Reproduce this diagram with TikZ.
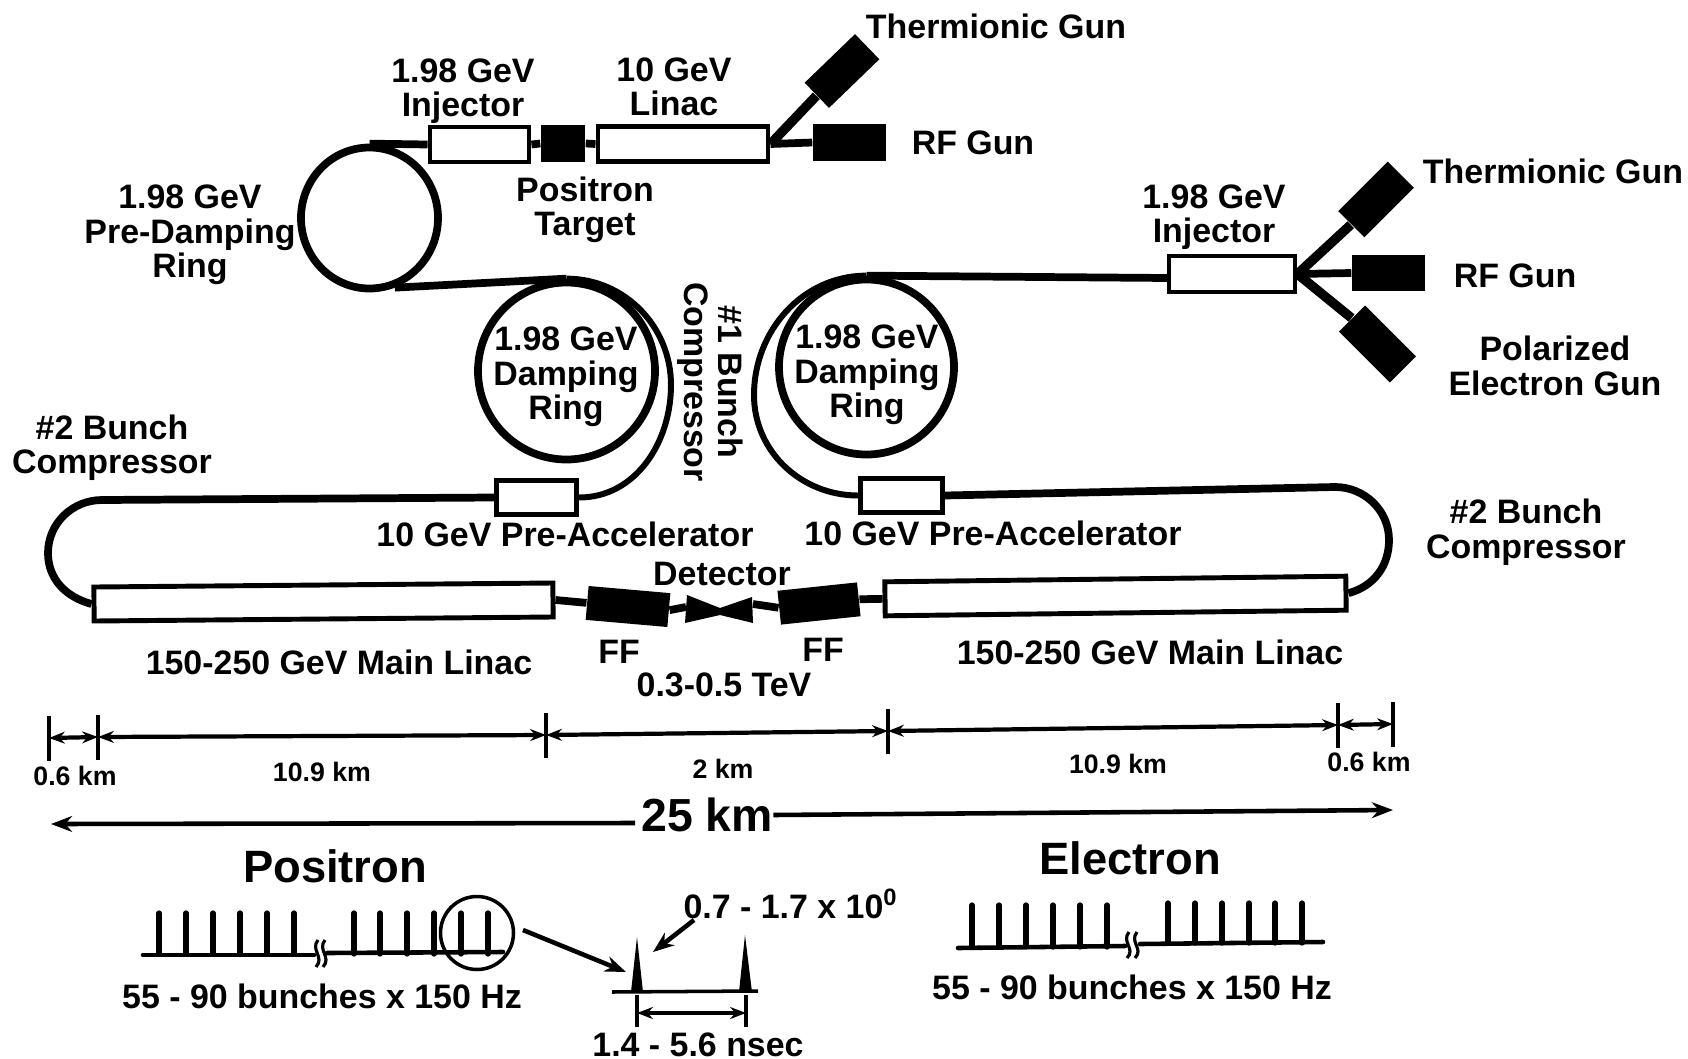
\documentclass[tikz,border=0pt]{standalone}
\usepackage{fontspec}
\setmainfont{Liberation Sans}
\usetikzlibrary{shapes.geometric, arrows.meta}
\newcommand{\basefont}{\fontsize{9.65}{9.8}\selectfont\bfseries}
\newcommand{\smallfont}{\fontsize{7.6}{8}\selectfont\bfseries}
\newcommand{\bigfont}{\fontsize{12.9}{14}\selectfont\bfseries}
\tikzset{
  txt/.style      = {align=center, inner sep=0pt, font=\basefont},
  smalltxt/.style = {align=center, inner sep=0pt, font=\smallfont},
  bigtxt/.style   = {align=center, inner sep=0pt, font=\bigfont},
  box/.style      = {rectangle, draw, fill=white, line width=1.4pt, inner sep=0pt},
  blk/.style      = {rectangle, fill=black, inner sep=0pt},
  ring/.style     = {circle, draw, line width=2.2pt, inner sep=0pt},
  beam/.style     = {line width=2.2pt},
  feed/.style     = {line width=2.7pt},
  comp/.style     = {line width=1.7pt},
  dim/.style      = {{Stealth[length=4.5pt]}-{Stealth[length=4.5pt]}, line width=1.2pt},
  tick/.style     = {line width=1.2pt},
  arr/.style      = {-{Stealth[length=6pt]}, line width=1.3pt},
  pulse/.style    = {line width=1.5pt, line cap=round},
  train/.style    = {line width=1.3pt, line cap=round},
  wiggle/.style   = {line width=0.9pt},
}
\begin{document}
\begin{tikzpicture}
  \useasboundingbox (0,0) rectangle (16.88,-10.59);

  % Positron source line
  \node[box, minimum width=0.99cm, minimum height=0.35cm] (injL) at (4.795,-1.445) {};
  \node[blk, minimum width=0.44cm, minimum height=0.37cm] (tgtL) at (5.63,-1.435) {};
  \node[box, minimum width=1.70cm, minimum height=0.35cm] (linacL) at (6.83,-1.44) {};
  \node[blk, minimum width=0.73cm, minimum height=0.37cm] (rfL) at (8.495,-1.425) {};
  \node[blk, minimum width=0.70cm, minimum height=0.35cm, rotate=44] (thermL) at (8.42,-0.71) {};
  \draw[beam] (injL.east) -- (tgtL.west);
  \draw[beam] (tgtL.east) -- (linacL.west);
  \draw[beam] (linacL.east) -- (rfL.west);
  \draw[feed] (linacL.east) -- (thermL.west);

  % Electron source line
  \node[box, minimum width=1.26cm, minimum height=0.36cm] (injR) at (12.32,-2.74) {};
  \node[blk, minimum width=0.73cm, minimum height=0.36cm] (rfR) at (13.885,-2.73) {};
  \node[blk, minimum width=0.70cm, minimum height=0.37cm, rotate=45] (thermR) at (13.76,-1.995) {};
  \node[blk, minimum width=0.72cm, minimum height=0.37cm, rotate=-45] (polR) at (13.775,-3.44) {};
  \coordinate (injRin) at (11.68,-2.78);
  \draw[beam] (injR.east) -- (rfR.west);
  \draw[feed] (injR.east) -- (thermR.west);
  \draw[feed] (injR.east) -- (polR.west);

  % Rings
  \node[ellipse, draw, line width=2.2pt, inner sep=0pt, minimum width=1.37cm, minimum height=1.41cm] (predamp) at (3.695,-2.18) {};
  \node[ring, minimum size=1.77cm] (dampL) at (5.665,-3.71) {};
  \node[ring, minimum size=1.75cm] (dampR) at (8.665,-3.67) {};
  \draw[beam] (predamp.north) -- (injL.west);
  \draw[beam] (predamp.-70) -- (dampL.north);
  \draw[beam] (dampR.north) -- (injRin);

  % Pre-accelerators and compressors
  \node[box, minimum width=0.80cm, minimum height=0.34cm] (preL) at (5.365,-4.975) {};
  \node[box, minimum width=0.82cm, minimum height=0.34cm] (preR) at (9.015,-4.955) {};
  \coordinate (cmpL) at (6.71,-3.85);
  \coordinate (cmpR) at (7.54,-3.95);
  \draw[comp] (dampL.north) to[out=0,in=90] (cmpL) to[out=-90,in=0] (preL.east);
  \draw[comp] (dampR.north) to[out=180,in=90] (cmpR) to[out=-90,in=180] (preR.west);

  % Main linacs and final focus
  \node[box, minimum width=4.59cm, minimum height=0.34cm, rotate=0.5] (mainL) at (3.235,-6.02) {};
  \node[box, minimum width=4.61cm, minimum height=0.34cm, rotate=0.7] (mainR) at (11.155,-5.96) {};
  \node[blk, minimum width=0.82cm, minimum height=0.34cm, rotate=-5] (ffL) at (6.28,-6.065) {};
  \node[blk, minimum width=0.80cm, minimum height=0.34cm, rotate=6] (ffR) at (8.19,-6.035) {};
  \coordinate (detL) at (6.86,-6.07);
  \coordinate (detR) at (7.53,-6.04);
  \fill (6.87,-5.95) -- (7.20,-6.08) -- (7.52,-5.97) -- (7.53,-6.23) -- (7.20,-6.15) -- (6.85,-6.23) -- cycle;
  \draw[beam] (mainL.east) -- (ffL.west);
  \draw[beam] (ffL.east) -- (detL);
  \draw[beam] (detR) -- (ffR.west);
  \draw[beam] (ffR.east) -- (mainR.west);

  % Return loops
  \coordinate (loopA) at (1.02,-5.00);
  \coordinate (loopB) at (0.48,-5.53);
  \coordinate (loopC) at (13.35,-4.87);
  \coordinate (loopD) at (13.89,-5.40);
  \draw[beam] (preL.west) -- (loopA) to[out=180,in=90] (loopB) to[out=-90,in=165] (mainL.west);
  \draw[beam] (preR.east) -- (loopC) to[out=0,in=90] (loopD) to[out=-90,in=15] (mainR.east);

  % Length scale
  \coordinate (d1) at (0.49,-7.38);
  \coordinate (d2) at (0.98,-7.37);
  \coordinate (d3) at (5.46,-7.35);
  \coordinate (d4) at (8.88,-7.31);
  \coordinate (d5) at (13.38,-7.25);
  \coordinate (d6) at (13.93,-7.24);
  \draw[dim] (d1) -- (d2);
  \draw[dim] (d2) -- (d3);
  \draw[dim] (d3) -- (d4);
  \draw[dim] (d4) -- (d5);
  \draw[dim] (d5) -- (d6);
  \foreach \n in {d1,d2,d3,d4,d5,d6}
    \draw[tick] (\n) ++(0,0.22) -- ++(0,-0.45);

  % Total length
  \node[bigtxt, font=\fontsize{13.2}{14}\selectfont\bfseries] (total) at (7.07,-8.15) {25 km};
  \coordinate (totA) at (0.51,-8.24);
  \coordinate (totB) at (6.35,-8.23);
  \coordinate (totC) at (13.93,-8.10);
  \draw[arr] (totB) -- (totA);
  \draw[arr] (total.east) -- (totC);

  % Bunch trains
  \draw[train] (1.43,-9.55) -- (3.14,-9.55);
  \draw[train] (3.27,-9.53) -- (5.03,-9.52);
  \foreach \x in {1.59,1.86,2.13,2.40,2.67,2.94,3.54,3.80,4.07,4.34,4.61,4.88}
    \draw[pulse] (\x,-9.54) -- (\x,-9.13);
  \foreach \x in {3.18,3.25}
    \draw[wiggle] (\x,-9.40) .. controls (\x-0.08,-9.50) and (\x+0.07,-9.57) .. (\x-0.02,-9.67);
  \draw[train] (9.58,-9.48) -- (11.25,-9.46);
  \draw[train] (11.40,-9.44) -- (13.23,-9.42);
  \foreach \x in {9.72,9.99,10.26,10.53,10.80,11.07}
    \draw[pulse] (\x,-9.47) -- (\x,-9.05);
  \foreach \x in {11.68,11.95,12.22,12.49,12.75,13.02}
    \draw[pulse] (\x,-9.43) -- (\x,-9.03);
  \foreach \x in {11.29,11.37}
    \draw[wiggle] (\x,-9.32) .. controls (\x-0.08,-9.42) and (\x+0.07,-9.49) .. (\x-0.02,-9.58);
  \node[circle, draw, line width=1pt, inner sep=0pt, minimum size=0.73cm] (zoomc) at (4.77,-9.33) {};

  % Bunch spacing detail
  \coordinate (base1) at (6.12,-9.92);
  \coordinate (base2) at (7.58,-9.91);
  \draw[line width=1pt] (base1) -- (base2);
  \fill (6.31,-9.92) -- (6.37,-9.37) -- (6.43,-9.92) -- cycle;
  \fill (7.39,-9.92) -- (7.45,-9.35) -- (7.52,-9.92) -- cycle;
  \coordinate (zoomA) at (5.23,-9.30);
  \coordinate (zoomB) at (6.26,-9.72);
  \coordinate (bunchA) at (6.94,-9.20);
  \coordinate (bunchB) at (6.53,-9.52);
  \coordinate (gapA) at (6.37,-10.13);
  \coordinate (gapB) at (7.46,-10.13);
  \draw[arr] (zoomA) -- (zoomB);
  \draw[arr] (bunchA) -- (bunchB);
  \draw[dim] (gapA) -- (gapB);
  \draw[tick] (gapA) ++(0,0.18) -- ++(0,-0.32);
  \draw[tick] (gapB) ++(0,0.18) -- ++(0,-0.32);

  % Labels
  \node[txt] (lblThermL) at (9.96,-0.26) {Thermionic Gun};
  \node[txt] (lblRfL) at (9.73,-1.43) {RF Gun};
  \node[txt] (lblInjL) at (4.63,-0.91) {1.98 GeV\\Injector};
  \node[txt] (lblLinac) at (6.74,-0.87) {10 GeV\\Linac};
  \node[txt] (lblTgt) at (5.85,-2.10) {Positron\\Target};
  \node[txt] (lblPre) at (1.90,-2.35) {1.98 GeV\\Pre-Damping\\Ring};
  \node[txt] (lblDampL) at (5.66,-3.77) {1.98 GeV\\Damping\\Ring};
  \node[txt] (lblDampR) at (8.67,-3.75) {1.98 GeV\\Damping\\Ring};
  \node[txt, rotate=-90] (lblCmp1) at (7.10,-3.82) {\#1 Bunch\\Compressor};
  \node[txt] (lblThermR) at (15.53,-1.71) {Thermionic Gun};
  \node[txt] (lblRfR) at (15.15,-2.76) {RF Gun};
  \node[txt] (lblPol) at (15.55,-3.66) {Polarized\\Electron Gun};
  \node[txt] (lblInjR) at (12.14,-2.17) {1.98 GeV\\Injector};
  \node[txt] (lblCmp2L) at (1.12,-4.48) {\#2 Bunch\\Compressor};
  \node[txt] (lblCmp2R) at (15.26,-5.32) {\#2 Bunch\\Compressor};
  \node[txt] (lblPreL) at (5.65,-5.34) {10 GeV Pre-Accelerator};
  \node[txt] (lblPreR) at (9.93,-5.33) {10 GeV Pre-Accelerator};
  \node[txt] (lblDet) at (7.22,-5.74) {Detector};
  \node[txt] (lblMainL) at (3.39,-6.62) {150-250 GeV Main Linac};
  \node[txt] (lblMainR) at (11.50,-6.52) {150-250 GeV Main Linac};
  \node[txt] (lblFfL) at (6.19,-6.52) {FF};
  \node[txt] (lblFfR) at (8.23,-6.50) {FF};
  \node[txt] (lblTev) at (7.24,-6.85) {0.3-0.5 TeV};
  \node[smalltxt] (lblD1) at (0.75,-7.76) {0.6 km};
  \node[smalltxt] (lblD2) at (3.22,-7.72) {10.9 km};
  \node[smalltxt] (lblD3) at (7.23,-7.69) {2 km};
  \node[smalltxt] (lblD4) at (11.18,-7.64) {10.9 km};
  \node[smalltxt] (lblD5) at (13.69,-7.62) {0.6 km};
  \node[bigtxt] (lblPos) at (3.35,-8.66) {Positron};
  \node[bigtxt] (lblEle) at (11.30,-8.58) {Electron};
  \node[txt] (lblTrainL) at (3.22,-9.96) {55 - 90 bunches x 150 Hz};
  \node[txt] (lblTrainR) at (11.32,-9.87) {55 - 90 bunches x 150 Hz};
  \node[txt] (lblCharge) at (7.91,-9.04) {0.7 - 1.7 x 10\textsuperscript{0}};
  \node[txt] (lblGap) at (6.98,-10.45) {1.4 - 5.6 nsec};
\end{tikzpicture}
\end{document}
